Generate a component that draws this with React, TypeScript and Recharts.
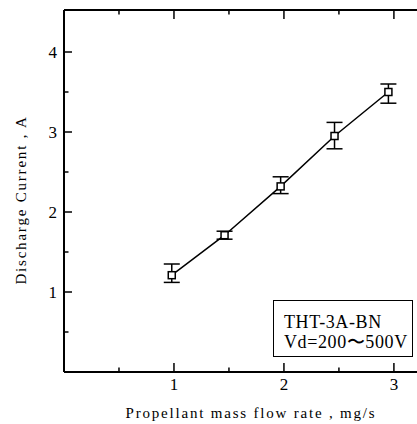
import React from "react";
import { ComposedChart, ErrorBar, Line, XAxis, YAxis } from "recharts";

// mass flow rate, mg/s
const flowRate = [0.98, 1.46, 1.97, 2.46, 2.95];
// discharge current, A
const current = [1.21, 1.71, 2.32, 2.95, 3.5];
const errLow = [0.09, 0.05, 0.09, 0.16, 0.14];
const errHigh = [0.14, 0.05, 0.12, 0.17, 0.1];

const xTicks = [0.5, 1, 1.5, 2, 2.5, 3];
const yTicks = [0.5, 1, 1.5, 2, 2.5, 3, 3.5, 4];

const data = flowRate.map((x, i) => ({
  x,
  y: current[i],
  err: [errLow[i], errHigh[i]],
}));

const serif = "'Liberation Serif', 'DejaVu Serif', serif";

const isMajor = (v: number) => Number.isInteger(v);

function LeftTick(props: any) {
  const { x, y, payload } = props;
  const v = payload.value;
  const len = isMajor(v) ? 8 : 4.5;
  return (
    <g>
      <line x1={x} x2={x + len} y1={y} y2={y} stroke="#000" strokeWidth={1.5} />
      {isMajor(v) && (
        <text x={x - 7} y={y} dy={6} textAnchor="end" fontFamily={serif} fontSize={17} fill="#000">
          {v}
        </text>
      )}
    </g>
  );
}

function BottomTick(props: any) {
  const { x, y, payload } = props;
  const v = payload.value;
  const len = isMajor(v) ? 9 : 4.5;
  return (
    <g>
      <line x1={x} x2={x} y1={y} y2={y - len} stroke="#000" strokeWidth={1.5} />
      {isMajor(v) && (
        <text x={x} y={y + 18} textAnchor="middle" fontFamily={serif} fontSize={17} fill="#000">
          {v}
        </text>
      )}
    </g>
  );
}

function TopTick(props: any) {
  const { x, y, payload } = props;
  const len = isMajor(payload.value) ? 9 : 4.5;
  return <line x1={x} x2={x} y1={y} y2={y + len} stroke="#000" strokeWidth={1.5} />;
}

function SquareDot(props: any) {
  const { cx, cy } = props;
  if (cx == null || cy == null) return null;
  return <rect x={cx - 3.5} y={cy - 3.5} width={7} height={7} fill="#fff" stroke="#000" strokeWidth={1.5} />;
}

function YTitle() {
  return (
    <text
      transform="translate(21,200) rotate(-90)"
      textAnchor="middle"
      dominantBaseline="central"
      fontFamily={serif}
      fontSize={15}
      letterSpacing={1.8}
      fill="#000"
    >
      Discharge Current , A
    </text>
  );
}

function XTitle() {
  return (
    <text x={251} y={418} textAnchor="middle" fontFamily={serif} fontSize={15} letterSpacing={1.8} fill="#000">
      Propellant mass flow rate , mg/s
    </text>
  );
}

export default function App() {
  return (
    <div style={{ position: "absolute", left: 0, top: 0, width: 417, height: 424, background: "#fff", overflow: "hidden" }}>
      <ComposedChart width={417} height={424} data={data} margin={{ top: 9, right: 0, bottom: 0, left: 0 }}>
        <XAxis
          xAxisId="bottom"
          type="number"
          dataKey="x"
          domain={[0, 3.21]}
          ticks={xTicks}
          allowDataOverflow
          height={52}
          axisLine={{ stroke: "#000", strokeWidth: 2 }}
          tickLine={false}
          tickSize={0}
          tickMargin={0}
          tick={<BottomTick />}
          interval={0}
          label={<XTitle />}
        />
        <XAxis
          xAxisId="top"
          orientation="top"
          type="number"
          dataKey="x"
          domain={[0, 3.21]}
          ticks={xTicks}
          allowDataOverflow
          height={1}
          axisLine={{ stroke: "#000", strokeWidth: 2 }}
          tickLine={false}
          tickSize={0}
          tickMargin={0}
          tick={<TopTick />}
          interval={0}
        />
        <YAxis
          type="number"
          domain={[0, 4.525]}
          ticks={yTicks}
          allowDataOverflow
          width={64}
          axisLine={{ stroke: "#000", strokeWidth: 2 }}
          tickLine={false}
          tickSize={0}
          tickMargin={0}
          tick={<LeftTick />}
          interval={0}
          label={<YTitle />}
        />
        <Line
          xAxisId="bottom"
          type="linear"
          dataKey="y"
          stroke="#000"
          strokeWidth={1.5}
          dot={<SquareDot />}
          activeDot={false}
          isAnimationActive={false}
        >
          <ErrorBar dataKey="err" direction="y" width={8} stroke="#000" strokeWidth={1.5} />
        </Line>
      </ComposedChart>
      <div
        style={{
          position: "absolute",
          left: 273,
          top: 300,
          width: 140,
          height: 57,
          border: "1.5px solid #000",
          background: "#fff",
          fontFamily: serif,
          fontSize: 18,
          letterSpacing: 0.6,
          lineHeight: "20px",
          padding: "11px 0 0 10px",
          boxSizing: "border-box",
          color: "#000",
          whiteSpace: "nowrap",
        }}
      >
        <div>THT-3A-BN</div>
        <div>Vd=200〜500V</div>
      </div>
    </div>
  );
}
